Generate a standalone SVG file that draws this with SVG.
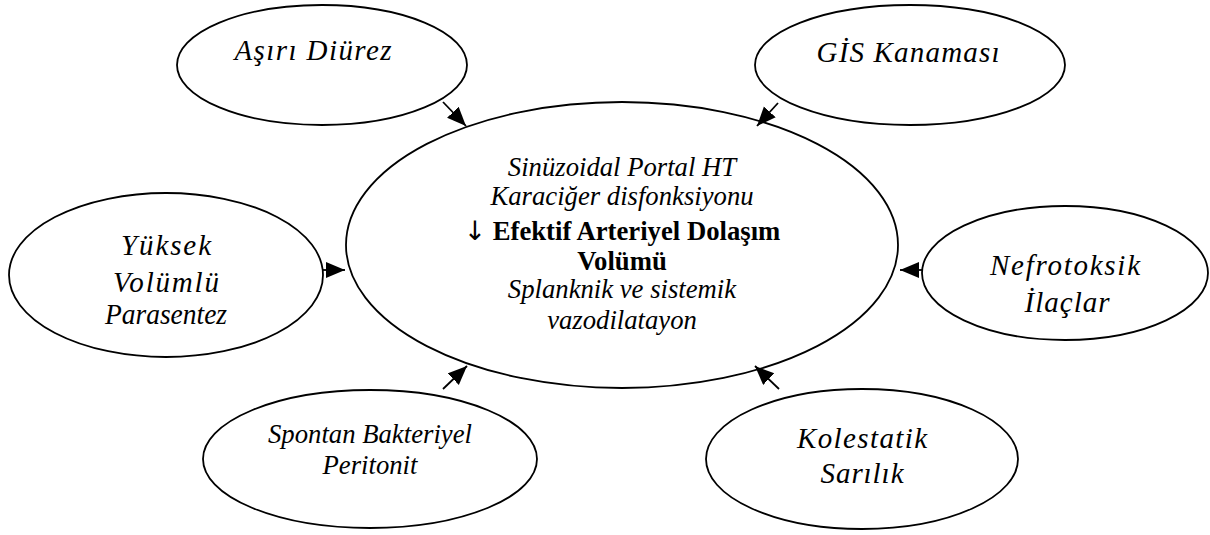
<svg xmlns="http://www.w3.org/2000/svg" width="1210" height="535" viewBox="0 0 1210 535">
  <defs>
    <marker id="arr" markerUnits="userSpaceOnUse" markerWidth="22" markerHeight="18" refX="19" refY="8" orient="auto">
      <path d="M0,0 L19,8 L0,16 z" fill="#000"/>
    </marker>
    <style>
      .node ellipse { fill: #fff; stroke: #000; stroke-width: 1.8; }
      .lbl { font-family: "Liberation Serif", "Times New Roman", serif; font-style: italic; font-size: 26.7px; fill: #000; text-anchor: middle; }
      .big { font-size: 29px; }
      .bold { font-family: "Liberation Serif", "Times New Roman", serif; font-weight: bold; font-size: 26.7px; fill: #000; text-anchor: middle; }
      .sym { font-family: "DejaVu Sans", sans-serif; font-weight: normal; fill: #000; }
      .conn line { stroke: #000; stroke-width: 1.8; marker-end: url(#arr); }
    </style>
  </defs>
  <rect width="1210" height="535" fill="#fff"/>

  <g id="center" class="node">
    <ellipse cx="622" cy="245" rx="276" ry="143"/>
    <text class="lbl" x="622" y="176">Sinüzoidal Portal HT</text>
    <text class="lbl" x="622" y="205">Karaciğer disfonksiyonu</text>
    <text class="bold" x="622" y="240"><tspan class="sym">↓</tspan> Efektif Arteriyel Dolaşım</text>
    <text class="bold" x="622" y="270">Volümü</text>
    <text class="lbl" x="622" y="298">Splanknik ve sistemik</text>
    <text class="lbl" x="622" y="329">vazodilatayon</text>
  </g>

  <g id="asiri-diurez" class="node">
    <ellipse cx="322" cy="65" rx="145" ry="60"/>
    <text class="lbl big" x="313" y="60" textLength="157" lengthAdjust="spacing">Aşırı Diürez</text>
  </g>

  <g id="gis-kanamasi" class="node">
    <ellipse cx="910" cy="65" rx="155" ry="60"/>
    <text class="lbl big" x="908" y="62" textLength="183" lengthAdjust="spacing">GİS Kanaması</text>
  </g>

  <g id="yuksek-volumlu" class="node">
    <ellipse cx="166" cy="275" rx="157" ry="82"/>
    <text class="lbl big" x="166" y="255" textLength="90" lengthAdjust="spacing">Yüksek</text>
    <text class="lbl big" x="166" y="292" textLength="106" lengthAdjust="spacing">Volümlü</text>
    <text class="lbl big" x="166" y="324" textLength="122" lengthAdjust="spacingAndGlyphs">Parasentez</text>
  </g>

  <g id="nefrotoksik" class="node">
    <ellipse cx="1065" cy="273" rx="143" ry="67"/>
    <text class="lbl big" x="1065" y="275" textLength="150" lengthAdjust="spacing">Nefrotoksik</text>
    <text class="lbl big" x="1067" y="312" textLength="85" lengthAdjust="spacing">İlaçlar</text>
  </g>

  <g id="spontan" class="node">
    <ellipse cx="370" cy="459" rx="167" ry="69"/>
    <text class="lbl" x="370" y="443" textLength="204" lengthAdjust="spacing">Spontan Bakteriyel</text>
    <text class="lbl" x="370" y="474">Peritonit</text>
  </g>

  <g id="kolestatik" class="node">
    <ellipse cx="862" cy="459" rx="156" ry="70"/>
    <text class="lbl big" x="862" y="448" textLength="130" lengthAdjust="spacing">Kolestatik</text>
    <text class="lbl big" x="862" y="483" textLength="83" lengthAdjust="spacing">Sarılık</text>
  </g>

  <g id="connectors" class="conn">
    <line x1="443" y1="102" x2="466" y2="126"/>
    <line x1="778" y1="103" x2="757" y2="126"/>
    <line x1="323" y1="270" x2="345" y2="270"/>
    <line x1="922" y1="270" x2="900" y2="270"/>
    <line x1="443" y1="389" x2="467" y2="366"/>
    <line x1="779" y1="389" x2="755" y2="366"/>
  </g>
</svg>
